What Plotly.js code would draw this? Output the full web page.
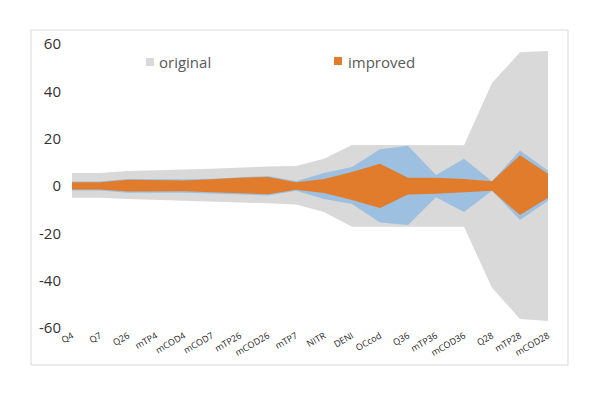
<!DOCTYPE html>
<html>
<head>
<meta charset="utf-8">
<script src="https://cdn.plot.ly/plotly-3.0.1.min.js"></script>
<style>
  html, body { margin: 0; padding: 0; background: #ffffff; }
  #chart { width: 600px; height: 400px; }
</style>
</head>
<body>
<div id="chart"></div>
<script>
// Parameter names along the horizontal axis
const categories = ['Q4', 'Q7', 'Q26', 'mTP4', 'mCOD4', 'mCOD7', 'mTP26', 'mCOD26', 'mTP7',
  'NITR', 'DENI', 'OCcod', 'Q36', 'mTP36', 'mCOD36', 'Q28', 'mTP28', 'mCOD28'];

// Original uncertainty band (upper / lower bounds)
const originalUpper = [5.5, 5.5, 6.3, 6.8, 7.0, 7.3, 7.9, 8.2, 8.5, 11.5, 17.3, 17.2, 17.2, 17.2, 17.2, 43.5, 56.5, 57.0];
const originalLower = [-5.0, -5.0, -5.5, -5.8, -6.1, -6.4, -6.9, -7.3, -7.8, -11.0, -17.2, -17.2, -17.2, -17.2, -17.2, -43.0, -56.2, -57.0];

// Intermediate band
const middleUpper = [1.9, 1.9, 3.0, 2.8, 2.8, 3.1, 3.8, 4.2, 2.0, 5.5, 8.0, 15.5, 17.0, 4.7, 11.5, 2.0, 15.0, 6.6];
const middleLower = [-1.9, -1.9, -2.9, -2.8, -2.9, -3.2, -3.6, -4.0, -2.0, -5.5, -7.6, -15.4, -16.5, -4.8, -11.0, -2.0, -14.4, -6.2];

// Improved band
const improvedUpper = [1.6, 1.6, 2.6, 2.3, 2.3, 2.8, 3.5, 3.8, 1.6, 3.0, 5.9, 9.4, 3.5, 3.5, 3.0, 2.0, 13.0, 5.2];
const improvedLower = [-1.5, -1.5, -2.3, -2.2, -2.2, -2.6, -3.0, -3.5, -1.6, -3.0, -5.9, -9.3, -3.6, -3.3, -2.6, -2.0, -12.3, -5.0];

const yTicks = [-60, -40, -20, 0, 20, 40, 60];

const GRAY = '#d9d9d9';
const BLUE = '#9dc0e0';
const ORANGE = '#e07c2c';

function band(lower, upper, color, name) {
  return [
    { x: categories, y: lower, type: 'scatter', mode: 'lines', line: { width: 0, color: color },
      hoverinfo: 'skip', showlegend: false, name: name + ' lower' },
    { x: categories, y: upper, type: 'scatter', mode: 'lines', line: { width: 0, color: color },
      fill: 'tonexty', fillcolor: color, hoverinfo: 'skip', showlegend: false, name: name }
  ];
}

const traces = [].concat(
  band(originalLower, originalUpper, GRAY, 'original'),
  band(middleLower, middleUpper, BLUE, 'middle'),
  band(improvedLower, improvedUpper, ORANGE, 'improved')
);

// helpers: pixel position -> paper coordinates of the plot area
const L = 72, R = 52, T = 44, B = 72, W = 600 - L - R, H = 400 - T - B;
const px = x => (x - L) / W;
const py = y => (400 - B - y) / H;

const layout = {
  width: 600,
  height: 400,
  margin: { l: L, r: R, t: T, b: B, pad: 0 },
  paper_bgcolor: '#ffffff',
  plot_bgcolor: '#ffffff',
  showlegend: false,
  font: { family: 'Open Sans, sans-serif', color: '#404040' },
  xaxis: {
    type: 'category',
    range: [0, categories.length - 1],
    tickangle: -30,
    tickfont: { size: 9, color: '#222222' },
    showgrid: false,
    zeroline: false,
    showline: false,
    ticks: '',
    fixedrange: true
  },
  yaxis: {
    range: [-60, 60],
    tickvals: yTicks,
    ticktext: yTicks.map(String),
    tickfont: { size: 15, color: '#333333' },
    ticklabelstandoff: 10,
    showgrid: false,
    showline: false,
    ticks: '',
    zeroline: true,
    zerolinecolor: 'rgba(255,222,185,0.75)',
    zerolinewidth: 1.5,
    layer: 'above traces',
    fixedrange: true
  },
  shapes: [
    // chart frame
    { type: 'rect', xref: 'paper', yref: 'paper', x0: px(31), x1: px(568), y0: py(365), y1: py(30),
      line: { color: '#d9d9d9', width: 1 }, fillcolor: 'rgba(0,0,0,0)', layer: 'below' },
    // legend keys
    { type: 'rect', xref: 'paper', yref: 'paper', x0: px(146), x1: px(154), y0: py(66), y1: py(58),
      line: { width: 0 }, fillcolor: GRAY },
    { type: 'rect', xref: 'paper', yref: 'paper', x0: px(334), x1: px(342), y0: py(65), y1: py(57),
      line: { width: 0 }, fillcolor: ORANGE }
  ],
  annotations: [
    { text: 'original', xref: 'paper', yref: 'paper', x: px(157), y: py(62), xanchor: 'left', yanchor: 'middle',
      showarrow: false, font: { size: 15, color: '#595959' } },
    { text: 'improved', xref: 'paper', yref: 'paper', x: px(346), y: py(62), xanchor: 'left', yanchor: 'middle',
      showarrow: false, font: { size: 15, color: '#595959' } }
  ]
};

Plotly.newPlot('chart', traces, layout, { staticPlot: true, displayModeBar: false });
</script>
</body>
</html>
